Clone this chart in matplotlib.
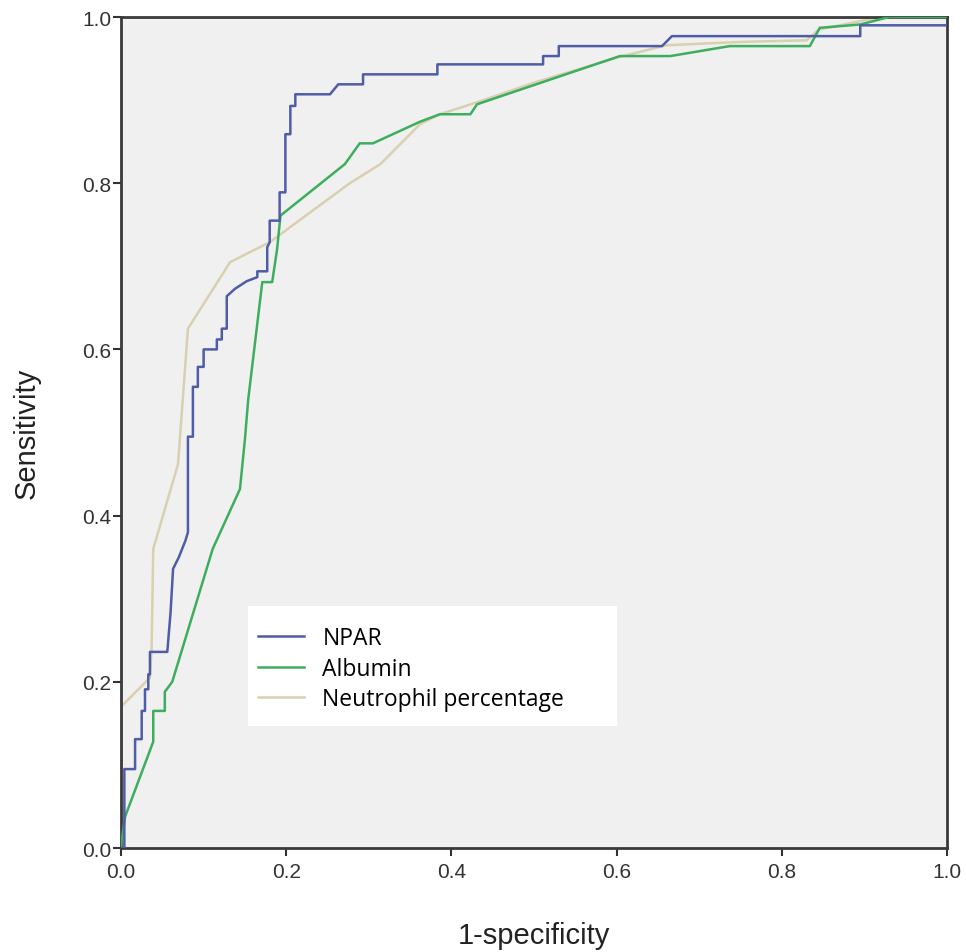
import matplotlib.pyplot as plt
from matplotlib.patches import Rectangle

# ROC curve points (1-specificity, sensitivity)
npar_x = [0, 0.004, 0.004, 0.017, 0.017, 0.025, 0.025, 0.029, 0.029, 0.033, 0.033,
          0.035, 0.035, 0.056, 0.057, 0.06, 0.063, 0.07, 0.078, 0.081, 0.081,
          0.087, 0.087, 0.093, 0.093, 0.1, 0.1, 0.116, 0.116, 0.122, 0.122,
          0.128, 0.128, 0.138, 0.152, 0.165, 0.165, 0.177, 0.177, 0.18, 0.18,
          0.192, 0.192, 0.199, 0.199, 0.205, 0.205, 0.211, 0.211, 0.253, 0.263,
          0.293, 0.293, 0.383, 0.383, 0.511, 0.511, 0.53, 0.53, 0.655, 0.667,
          0.895, 0.895, 1.0]
npar_y = [0, 0, 0.095, 0.095, 0.131, 0.131, 0.165, 0.165, 0.191, 0.191, 0.209,
          0.209, 0.236, 0.236, 0.248, 0.284, 0.336, 0.35, 0.37, 0.38, 0.495,
          0.495, 0.555, 0.555, 0.579, 0.579, 0.6, 0.6, 0.612, 0.612, 0.625,
          0.625, 0.664, 0.673, 0.682, 0.687, 0.694, 0.694, 0.723, 0.729, 0.755,
          0.755, 0.789, 0.789, 0.859, 0.859, 0.893, 0.893, 0.907, 0.907, 0.919,
          0.919, 0.931, 0.931, 0.943, 0.943, 0.953, 0.953, 0.965, 0.965, 0.977,
          0.977, 0.99, 0.99]

alb_x = [0, 0.001, 0.005, 0.039, 0.039, 0.053, 0.053, 0.062, 0.111, 0.144, 0.15,
         0.154, 0.171, 0.183, 0.189, 0.193, 0.271, 0.289, 0.305, 0.362, 0.386,
         0.423, 0.431, 0.604, 0.665, 0.737, 0.834, 0.846, 0.895, 0.93, 1.0]
alb_y = [0, 0.011, 0.038, 0.128, 0.165, 0.165, 0.188, 0.2, 0.36, 0.432, 0.492,
         0.54, 0.681, 0.681, 0.721, 0.761, 0.823, 0.848, 0.848, 0.874, 0.883,
         0.883, 0.895, 0.953, 0.953, 0.965, 0.965, 0.987, 0.991, 1.0, 1.0]

neu_x = [0, 0, 0.035, 0.037, 0.039, 0.069, 0.081, 0.132, 0.18, 0.277, 0.314,
         0.362, 0.386, 0.43, 0.5, 0.6, 0.66, 0.75, 0.83, 0.845, 0.92, 1.0]
neu_y = [0, 0.17, 0.205, 0.24, 0.36, 0.462, 0.625, 0.705, 0.729, 0.80, 0.823,
         0.871, 0.883, 0.897, 0.921, 0.951, 0.966, 0.97, 0.972, 0.985, 1.0, 1.0]

labels = ['NPAR', 'Albumin', 'Neutrophil percentage']
colors = ['#4f5ca6', '#3cae5e', '#d9d0b0']

fig = plt.figure(figsize=(9.66, 9.53), dpi=100)
ax = fig.add_axes([0.1253, 0.1091, 0.855, 0.872])
ax.set_facecolor('#f0f0f0')

ax.plot(neu_x, neu_y, color=colors[2], lw=1.8, label=labels[2], zorder=2)
ax.plot(alb_x, alb_y, color=colors[1], lw=1.8, label=labels[1], zorder=3)
ax.plot(npar_x, npar_y, color=colors[0], lw=1.8, label=labels[0], zorder=4)

ax.set_xlim(0, 1)
ax.set_ylim(0, 1)
ticks = [0.0, 0.2, 0.4, 0.6, 0.8, 1.0]
ax.set_xticks(ticks)
ax.set_yticks(ticks)
ax.set_xticklabels(['%.1f' % t for t in ticks])
ax.set_yticklabels(['%.1f' % t for t in ticks])
ax.tick_params(direction='out', length=6, width=1.5, colors='#333333',
               labelsize=15, labelcolor='#333333',
               labelfontfamily='Liberation Sans')
ax.tick_params(axis='y', pad=1)
ax.tick_params(axis='x', pad=4)

for sp in ax.spines.values():
    sp.set_color('#3a3a3a')
    sp.set_linewidth(2)

ax.set_xlabel('1-specificity', fontsize=21, family='Liberation Sans',
              color='#222222', labelpad=29)
ax.set_ylabel('Sensitivity', fontsize=21, family='Liberation Sans',
              color='#222222', labelpad=30)

# white legend box (wider than the entries, as in the original)
ax.add_patch(Rectangle((0.154, 0.147), 0.446, 0.144, transform=ax.transAxes,
                       facecolor='white', edgecolor='none', zorder=5))

handles, labs = ax.get_legend_handles_labels()
order = [2, 1, 0]
leg = ax.legend([handles[i] for i in order], [labs[i] for i in order],
                loc='upper left', bbox_to_anchor=(0.166, 0.267),
                frameon=False, prop={'family': 'Open Sans', 'size': 16.5},
                handlelength=2.0, handletextpad=0.8, labelspacing=0.29,
                borderpad=0, borderaxespad=0)
leg.set_zorder(6)

fig.savefig('out.png', dpi=100, facecolor='white')
